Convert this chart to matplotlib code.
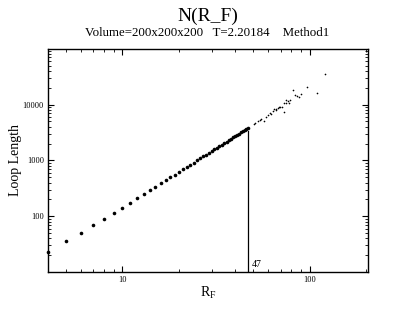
import matplotlib
matplotlib.use("Agg")
import matplotlib.pyplot as plt
from matplotlib.ticker import FixedLocator, FixedFormatter, LogLocator, NullFormatter

plt.rcParams['font.family'] = ['Liberation Serif', 'DejaVu Serif']
plt.rcParams['mathtext.fontset'] = 'custom'
plt.rcParams['mathtext.rm'] = 'Liberation Serif'
plt.rcParams['mathtext.it'] = 'Liberation Serif'

# dense series (integer R_F from 4 to 47)
r_dense = [4, 5, 6, 7, 8, 9, 10, 11, 12, 13, 14, 15, 16, 17, 18, 19, 20, 21, 22, 23,
           24, 25, 26, 27, 28, 29, 30, 31, 32, 33, 34, 35, 36, 37, 38, 39, 40, 41,
           42, 43, 44, 45, 46, 47]
n_dense = [23, 36, 51, 69, 90, 115, 142, 174, 208, 248, 290, 336, 385, 438, 495,
           555, 620, 688, 760, 835, 915, 998, 1085, 1176, 1271, 1369, 1472, 1579,
           1690, 1804, 1923, 2046, 2172, 2302, 2437, 2576, 2719, 2865, 3017, 3172,
           3331, 3494, 3663, 3837]

# sparse tail (large R_F)
r_tail = [50.2, 51.2, 52.7, 54.1, 55.2, 56.8, 58.2, 59.9, 61.1, 62.1, 63.7, 64.2,
          65.8, 66.4, 67.7, 68.3, 69.7, 71.1, 72.6, 73.2, 74.4, 75.1, 76.3, 77.2,
          78.2, 81.2, 83.2, 85.6, 87.8, 89.9, 96.8, 110.0, 121.3]
n_tail = [4487, 4742, 5152, 5297, 5598, 5152, 5916, 6427, 6982, 6700, 7785, 8225,
          8001, 8452, 8570, 9057, 9183, 8933, 7278, 10544, 12080, 10837, 11455,
          10544, 12080, 18281, 14859, 14256, 13868, 15488, 20370, 16368, 34834]

r_cut = 47
n_cut = 3300

y_ticks = [100, 1000, 10000]
y_ticklabels = ['100', '1000', '10000']
x_ticks = [10, 100]
x_ticklabels = ['10', '100']

fig = plt.figure(figsize=(4.15, 3.21), dpi=100)
ax = fig.add_axes([0.1157, 0.1526, 0.7718, 0.6957])
ax.set_xscale('log')
ax.set_yscale('log')
ax.set_xlim(4, 206)
ax.set_ylim(10, 100000)

ax.plot(r_dense, n_dense, linestyle='none', marker='o', ms=2.6, color='black',
        mew=0, clip_on=False, zorder=3)
ax.plot(r_tail, n_tail, linestyle='none', marker='o', ms=1.2, color='black', mew=0)
ax.plot([r_cut, r_cut], [10, n_cut], color='black', lw=0.9)
ax.text(r_cut * 1.04, 11.5, '47', fontsize=7, ha='left', va='bottom')

ax.xaxis.set_major_locator(FixedLocator(x_ticks))
ax.xaxis.set_major_formatter(FixedFormatter(x_ticklabels))
ax.xaxis.set_minor_locator(LogLocator(base=10, subs=range(2, 10), numticks=20))
ax.xaxis.set_minor_formatter(NullFormatter())
ax.yaxis.set_major_locator(FixedLocator(y_ticks))
ax.yaxis.set_major_formatter(FixedFormatter(y_ticklabels))
ax.yaxis.set_minor_locator(LogLocator(base=10, subs=range(2, 10), numticks=20))
ax.yaxis.set_minor_formatter(NullFormatter())

ax.tick_params(which='both', direction='in', top=True, right=True, labelsize=6, pad=3)
ax.tick_params(which='major', length=4.3, width=0.8)
ax.tick_params(which='minor', length=2.2, width=0.6)
for s in ax.spines.values():
    s.set_linewidth(1.0)

ax.set_xlabel(r'R$_\mathrm{F}$', fontsize=10, labelpad=0.5)
ax.set_ylabel('Loop Length', fontsize=10, labelpad=0.5)

fig.text(0.5, 1 - 16.5 / 321, 'N(R_F)', ha='center', va='center', fontsize=14)
fig.text(0.5, 1 - 32.5 / 321, 'Volume=200x200x200   T=2.20184    Method1',
         ha='center', va='center', fontsize=9.3)

fig.savefig('out.png', dpi=100)
